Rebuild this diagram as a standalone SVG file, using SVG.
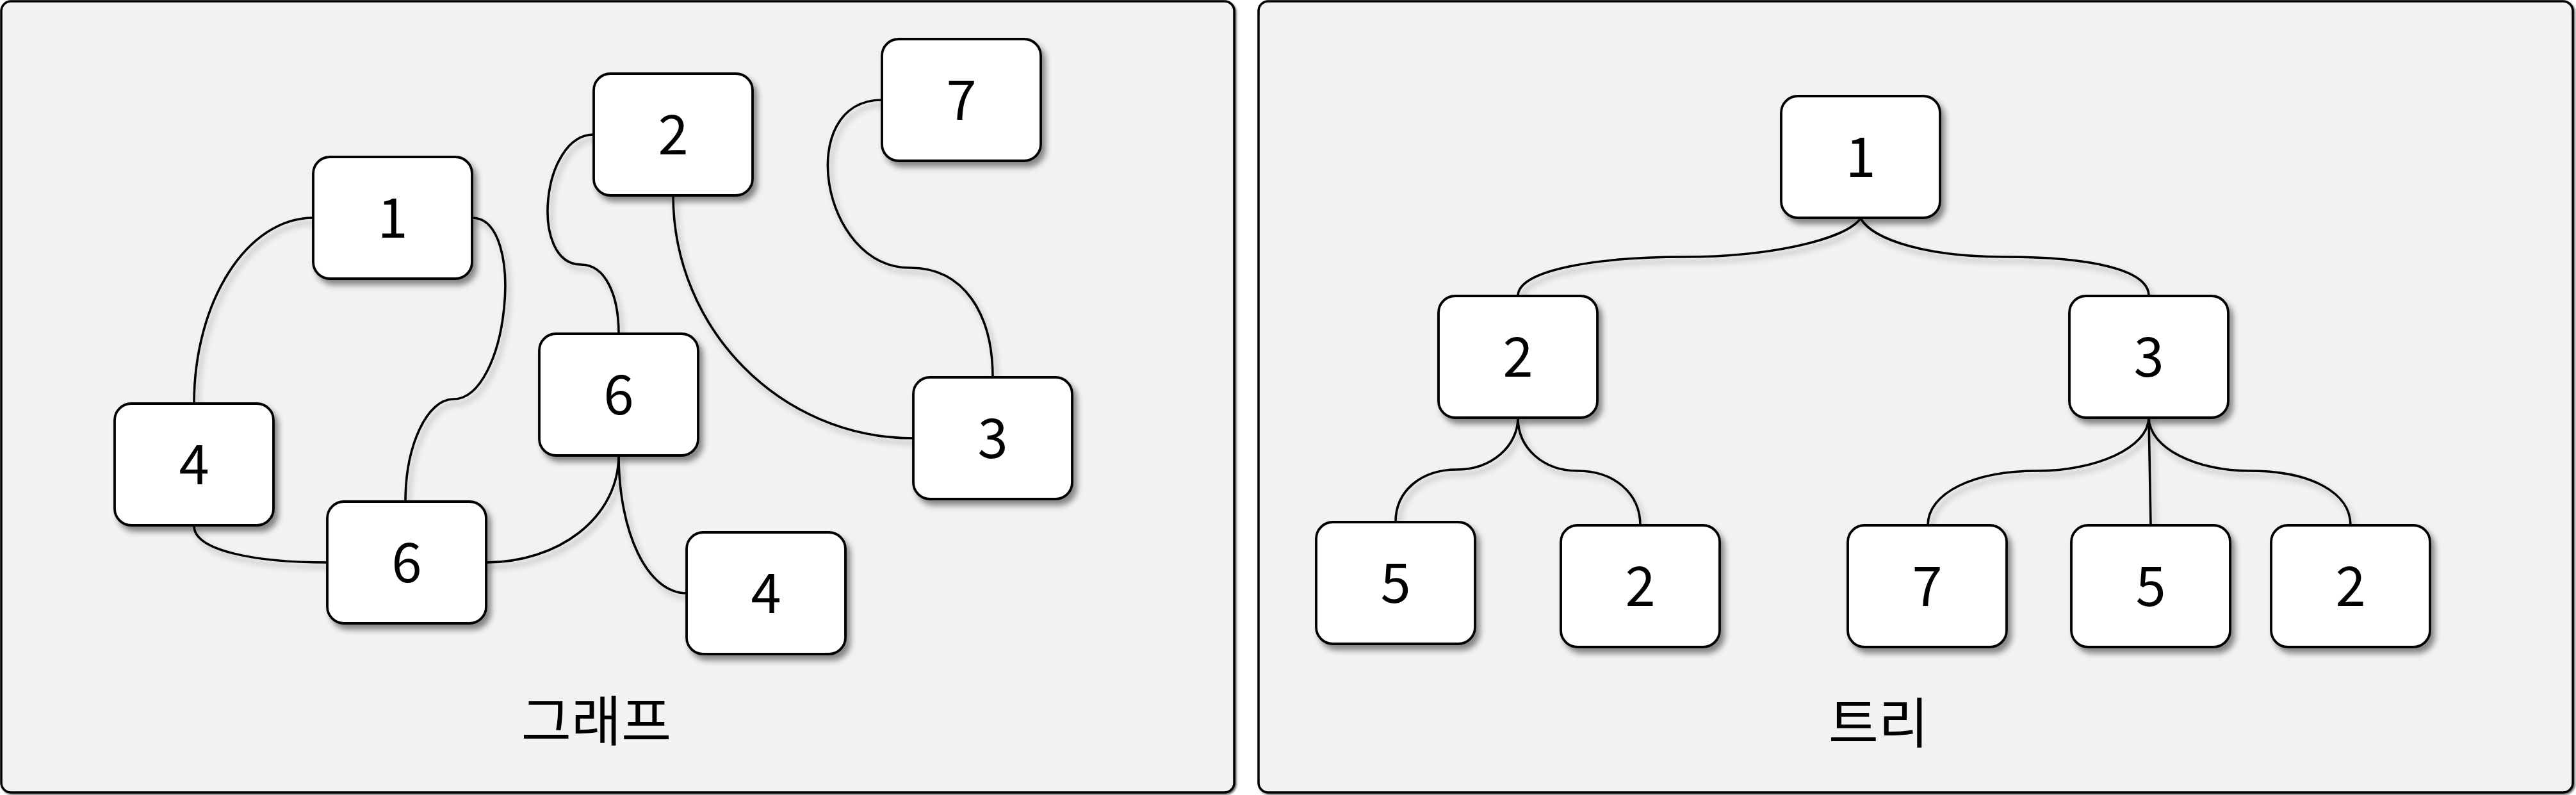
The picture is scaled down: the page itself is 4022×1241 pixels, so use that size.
<svg xmlns="http://www.w3.org/2000/svg" width="4022" height="1241" viewBox="0 0 4022 1241">
<defs>
<filter id="sh" x="-20%" y="-20%" width="150%" height="150%">
<feDropShadow dx="6" dy="8" stdDeviation="5" flood-color="#000" flood-opacity="0.45"/>
</filter>
<filter id="shl" x="-20%" y="-20%" width="150%" height="150%">
<feDropShadow dx="5" dy="7" stdDeviation="5" flood-color="#000" flood-opacity="0.3"/>
</filter>
<filter id="shp" x="-2%" y="-2%" width="104%" height="104%">
<feDropShadow dx="2" dy="2" stdDeviation="1.5" flood-color="#000" flood-opacity="0.6"/>
</filter>
</defs>
<style>
.panel{fill:#f2f2f2;stroke:#000;stroke-width:3.5}
.node rect{fill:#fff;stroke:#000;stroke-width:3.8}
.node text{font-family:"Noto Sans CJK KR","Noto Sans",sans-serif;font-size:85px;fill:#000;text-anchor:middle}
.lbl{font-family:"Noto Sans CJK KR","Noto Sans CJK SC",sans-serif;font-size:85px;fill:#000;text-anchor:middle}
.edges path{fill:none;stroke:#000;stroke-width:3.6}
</style>
<rect x="0" y="0" width="4022" height="1241" fill="#fff"/>
<g id="panel-graph"><rect class="panel" x="2" y="2" width="1925" height="1235" rx="15" filter="url(#shp)"/></g>
<g id="panel-tree"><rect class="panel" x="1965" y="2" width="2052" height="1235" rx="15" filter="url(#shp)"/></g>

<g id="connectors" class="edges" filter="url(#shl)">
<path d="M489,340 C386,340 303,470 303,630"/>
<path d="M737,340 C823,340 794,623 708,623 C667,623 633,695 633,783"/>
<path d="M927,210 C845,210 826,413 907,413 C945,413 966,460 966,521"/>
<path d="M1051,305 C1051,513 1218,684 1426,684"/>
<path d="M1377,156 C1240,156 1280,418 1421,418 C1505,418 1550,490 1550,589"/>
<path d="M966,710 C966,830 1010,926 1072,926"/>
<path d="M966,710 C966,810 870,878 759,878"/>
<path d="M303,821 C303,860 400,878 511,878"/>
<path d="M2905,341 C2880,375 2760,401 2631,401 C2500,401 2370,420 2370,462"/>
<path d="M2905,341 C2925,375 3010,401 3130,401 C3260,401 3355,420 3355,462"/>
<path d="M2370,652 C2370,697 2328,733 2275,733 C2220,733 2179,765 2179,815"/>
<path d="M2370,652 C2370,700 2410,735 2463,735 C2520,735 2561,770 2561,820"/>
<path d="M3355,651 C3355,700 3270,735 3182,735 C3080,735 3010,770 3010,820"/>
<path d="M3355,651 L3358,820"/>
<path d="M3355,651 C3355,700 3430,735 3512,735 C3610,735 3670,770 3670,820"/>
</g>

<g id="g-n1" class="node"><rect x="489" y="245" width="248" height="190" rx="26" filter="url(#sh)"/><text x="613" y="371">1</text></g>
<g id="g-n2" class="node"><rect x="927" y="115" width="248" height="190" rx="26" filter="url(#sh)"/><text x="1051" y="241">2</text></g>
<g id="g-n7" class="node"><rect x="1377" y="61" width="248" height="190" rx="26" filter="url(#sh)"/><text x="1501" y="187">7</text></g>
<g id="g-n6a" class="node"><rect x="842" y="521" width="248" height="190" rx="26" filter="url(#sh)"/><text x="966" y="647">6</text></g>
<g id="g-n3" class="node"><rect x="1426" y="589" width="248" height="190" rx="26" filter="url(#sh)"/><text x="1550" y="715">3</text></g>
<g id="g-n4b" class="node"><rect x="1072" y="831" width="248" height="190" rx="26" filter="url(#sh)"/><text x="1196" y="957">4</text></g>
<g id="g-n4a" class="node"><rect x="179" y="630" width="248" height="190" rx="26" filter="url(#sh)"/><text x="303" y="756">4</text></g>
<g id="g-n6b" class="node"><rect x="511" y="783" width="248" height="190" rx="26" filter="url(#sh)"/><text x="635" y="909">6</text></g>

<g id="t-n1" class="node"><rect x="2781" y="150" width="248" height="190" rx="26" filter="url(#sh)"/><text x="2905" y="276">1</text></g>
<g id="t-n2" class="node"><rect x="2246" y="462" width="248" height="190" rx="26" filter="url(#sh)"/><text x="2370" y="588">2</text></g>
<g id="t-n3" class="node"><rect x="3231" y="462" width="248" height="190" rx="26" filter="url(#sh)"/><text x="3355" y="588">3</text></g>
<g id="t-n5a" class="node"><rect x="2055" y="815" width="248" height="190" rx="26" filter="url(#sh)"/><text x="2179" y="941">5</text></g>
<g id="t-n2a" class="node"><rect x="2437" y="820" width="248" height="190" rx="26" filter="url(#sh)"/><text x="2561" y="946">2</text></g>
<g id="t-n7" class="node"><rect x="2885" y="820" width="248" height="190" rx="26" filter="url(#sh)"/><text x="3009" y="946">7</text></g>
<g id="t-n5b" class="node"><rect x="3234" y="820" width="248" height="190" rx="26" filter="url(#sh)"/><text x="3358" y="946">5</text></g>
<g id="t-n2b" class="node"><rect x="3546" y="820" width="248" height="190" rx="26" filter="url(#sh)"/><text x="3670" y="946">2</text></g>

<g id="labels">
<text class="lbl" x="931" y="1157">그래프</text>
<text class="lbl" x="2933" y="1160">트리</text>
</g>
</svg>
